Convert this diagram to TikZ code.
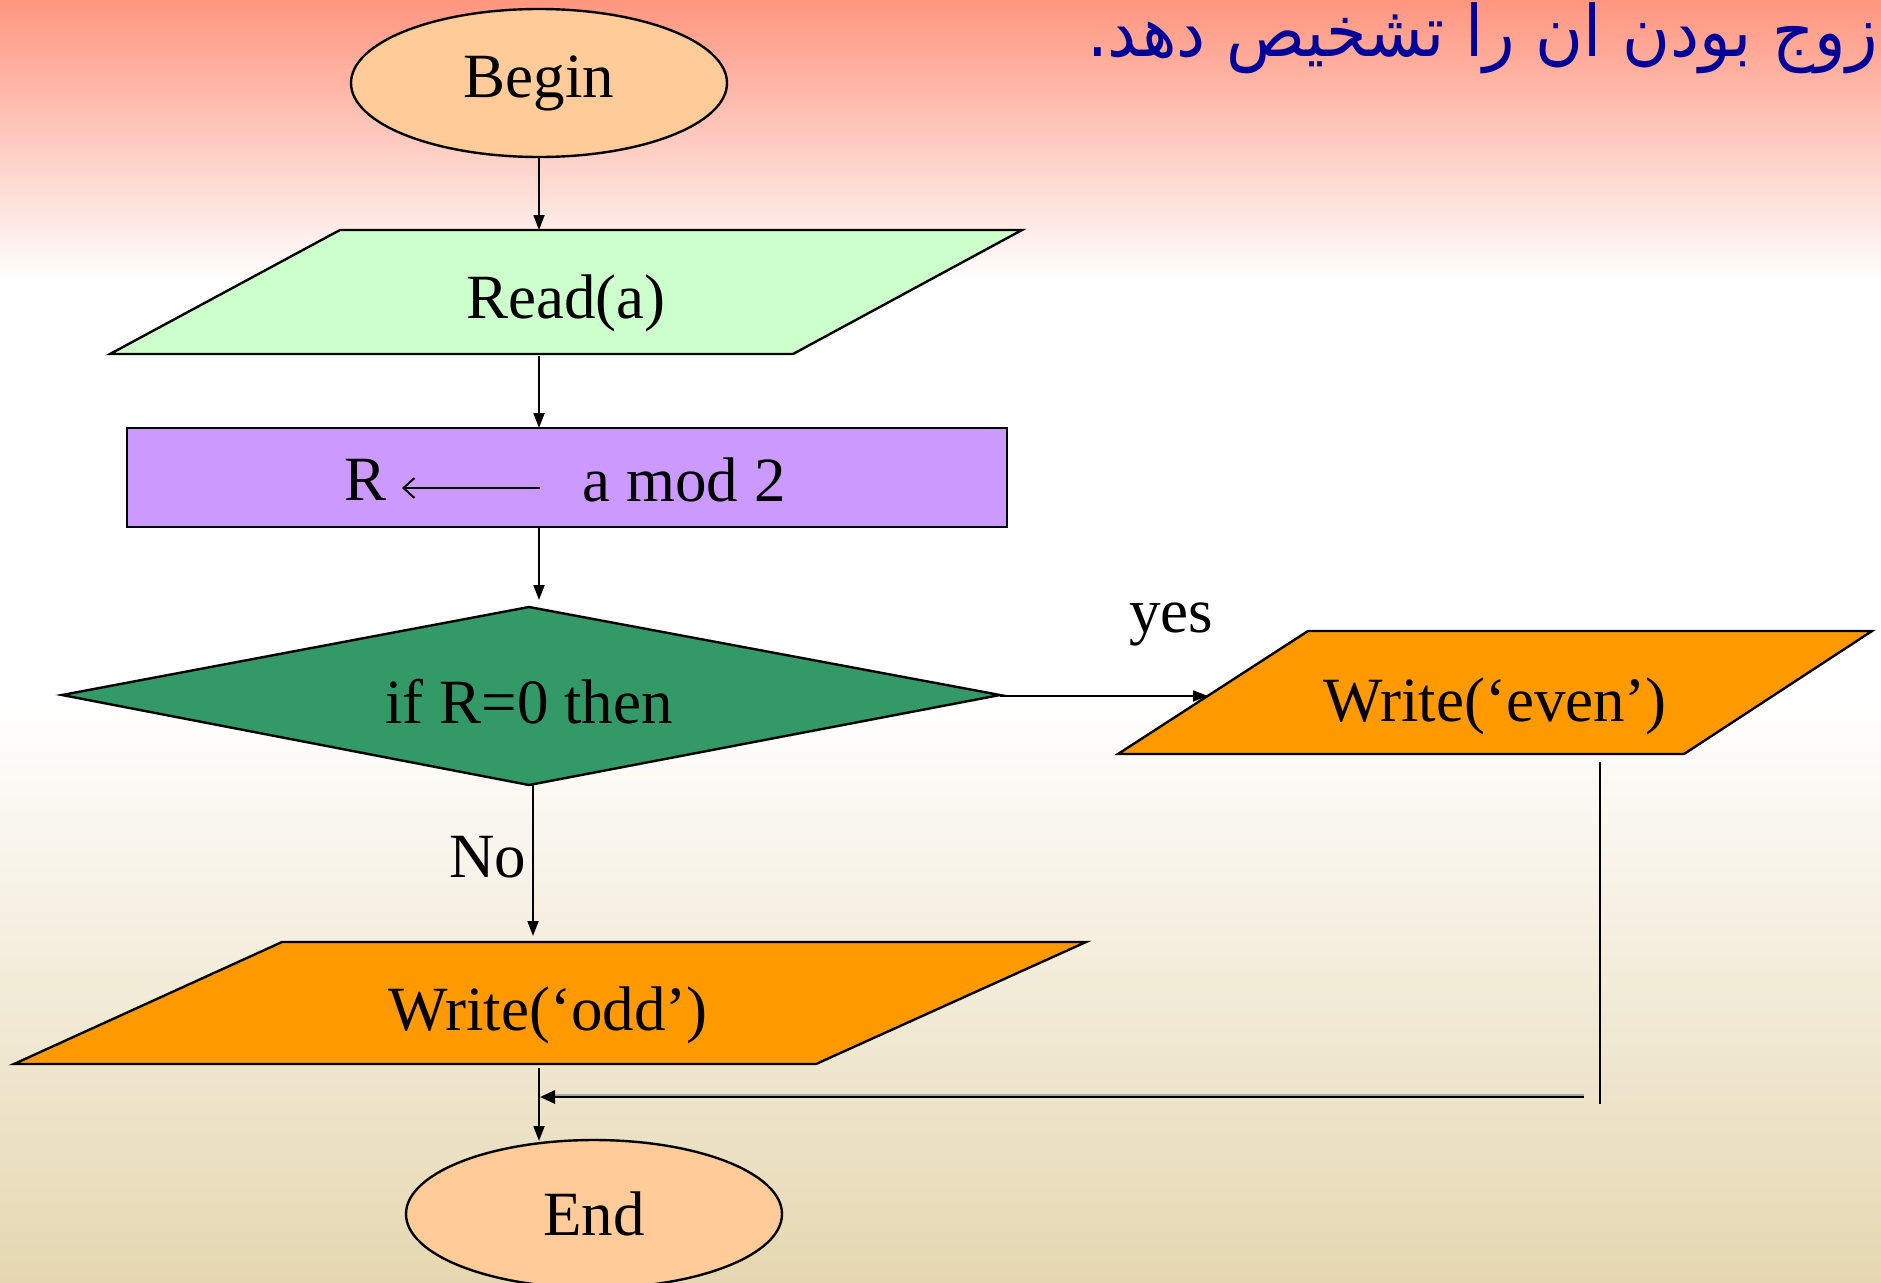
\documentclass[tikz,border=0pt]{standalone}
\usepackage{graphicx}
\usepackage{fontspec}
\setmainfont{Liberation Serif}
\newfontfamily\arabicfont[Script=Arabic]{DejaVu Sans}
\TeXXeTstate=1
\usetikzlibrary{shapes.geometric,arrows.meta}

\definecolor{bgtop}{HTML}{FF9680}
\definecolor{bgbottom}{HTML}{E5D7B1}
\definecolor{termfill}{HTML}{FFCC99}
\definecolor{readfill}{HTML}{CCFFCC}
\definecolor{procfill}{HTML}{CC99FF}
\definecolor{decfill}{HTML}{339966}
\definecolor{outfill}{HTML}{FF9900}
\definecolor{titleblue}{HTML}{000099}

\tikzset{
  bigtext/.style={font=\fontsize{63}{70}\selectfont, inner sep=0pt},
  shapeline/.style={draw=black, line width=2.4pt, line join=miter},
  terminal/.style={ellipse, shapeline, fill=termfill, minimum width=376pt,
                   minimum height=148pt, inner sep=0pt, bigtext},
  flow/.style={line width=1.8pt, -{Triangle[length=15pt,width=11pt]}},
  plainline/.style={line width=1.8pt}
}

\begin{document}
\begin{tikzpicture}[x=1pt,y=-1pt]
\useasboundingbox (0,0) rectangle (1881,1282);

% background gradient
\shade[top color=bgtop, bottom color=white] (0,0) rectangle (1881,282);
\fill[white] (0,280) rectangle (1881,702);
\shade[top color=white, bottom color=bgbottom] (0,700) rectangle (1881,1282);

% heading line (right-to-left)
\node[anchor=base east, text=titleblue, inner sep=0pt,
      font=\arabicfont\fontsize{71}{80}\selectfont] (title) at (1878,56)
  {\scalebox{0.92}[1]{\beginR زوج بودن ان را تشخیص دهد.\endR}};

% start
\node[terminal] (begin) at (539,83) {Begin};

% input
\path[shapeline, fill=readfill] (340,230) -- (1022,230) -- (793,354) -- (110,354) -- cycle;
\coordinate (readtop) at (539,230);
\coordinate (readbot) at (539,356);
\node[bigtext] (read) at (566,303) {Read(a)};

% assignment
\path[shapeline, fill=procfill] (127,428) rectangle (1007,527);
\coordinate (proctop) at (539,428);
\coordinate (procbot) at (539,527);
\node[bigtext] (rvar) at (366,480) {R};
\node[bigtext] (expr) at (684,480) {a mod 2};
\coordinate (assignfrom) at (540,488);
\coordinate (assignto) at (402,488);
\draw[line width=2pt, -{Straight Barb[length=11pt,width=20pt]}] (assignfrom) -- (assignto);

% decision
\path[shapeline, fill=decfill] (62,695) -- (529,607) -- (1000,695) -- (529,785) -- cycle;
\coordinate (dectop) at (539,600);
\coordinate (decright) at (1000,696);
\coordinate (decbot) at (533,785);
\node[bigtext] (cond) at (529,702) {if R=0 then};

% output: even
\path[shapeline, fill=outfill] (1308,631) -- (1872,631) -- (1684,754) -- (1118,754) -- cycle;
\coordinate (evenleft) at (1208,696);
\coordinate (evenbot) at (1600,762);
\node[bigtext] (even) at (1495,706) {Write(‘even’)};

% output: odd
\path[shapeline, fill=outfill] (282,942) -- (1086,942) -- (816,1064) -- (14,1064) -- cycle;
\coordinate (oddtop) at (533,936);
\coordinate (oddbot) at (539,1068);
\node[bigtext] (odd) at (548,1015) {Write(‘odd’)};

% end
\node[terminal] (end) at (594,1214) {End};
\coordinate (endtop) at (539,1141);

% labels
\node[bigtext] (yes) at (1171,624) {yes};
\node[bigtext] (no) at (488,857) {No};

% connectors
\draw[flow] (begin.south) -- (readtop);
\draw[flow] (readbot) -- (proctop);
\draw[flow] (procbot) -- (dectop);
\draw[flow] (decright) -- (evenleft);
\draw[flow] (decbot) -- (oddtop);
\draw[flow] (oddbot) -- (endtop);

% return path from the even branch
\coordinate (retdown) at (1600,1104);
\coordinate (retstart) at (1584,1097);
\coordinate (retend) at (540,1097);
\draw[plainline] (evenbot) -- (retdown);
\draw[line width=2.6pt, black!35] ([yshift=2pt]retstart) -- ([yshift=2pt,xshift=14pt]retend);
\draw[line width=2.6pt, -{Triangle[length=15pt,width=13pt]}] (retstart) -- (retend);
\end{tikzpicture}
\end{document}
